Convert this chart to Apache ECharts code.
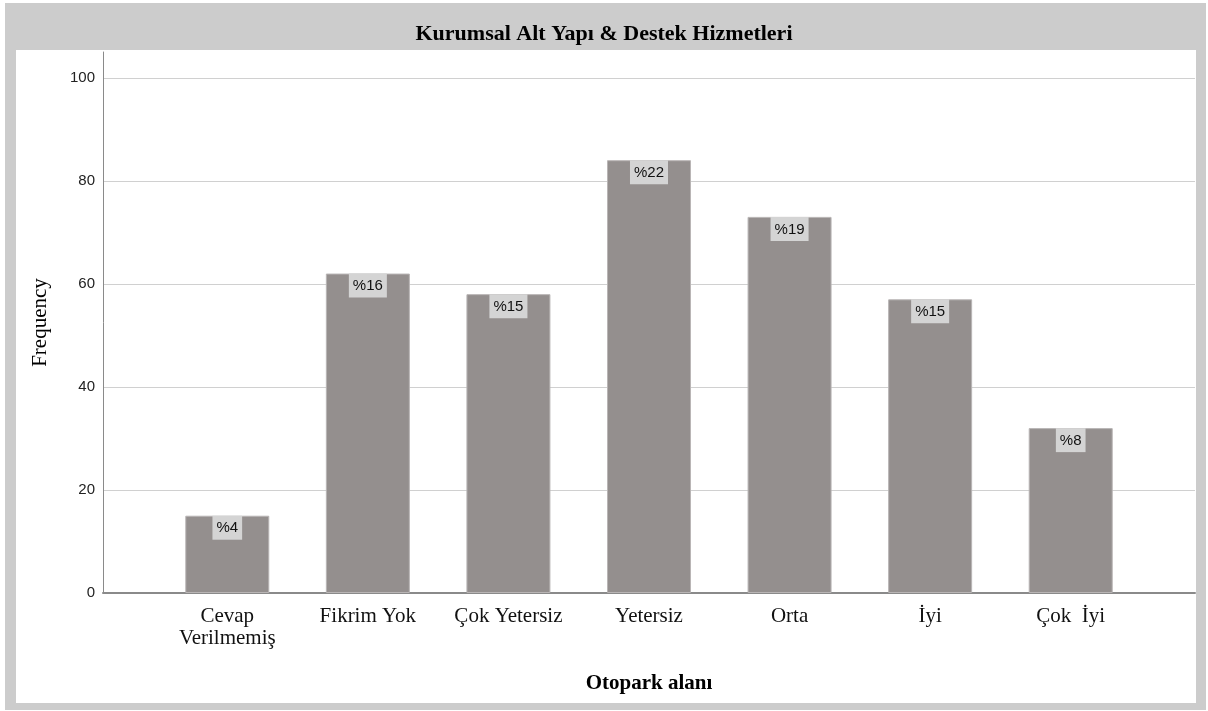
<!DOCTYPE html>
<html>
<head>
<meta charset="utf-8">
<script src="https://cdn.jsdelivr.net/npm/echarts@6.0.0/dist/echarts.min.js"></script>
<style>
html, body { margin: 0; padding: 0; background: #fff; }
#frame { position: absolute; left: 5px; top: 3px; width: 1201px; height: 707px; background: #cccccc; }
#inner { position: absolute; left: 16px; top: 50px; width: 1180px; height: 653px; background: #fff; }
#main { position: absolute; left: 0; top: 0; width: 1208px; height: 711px; }
</style>
</head>
<body>
<div id="frame"></div>
<div id="inner"></div>
<div id="main"></div>
<script>
// data
var categories = ['Cevap\nVerilmemiş', 'Fikrim Yok', 'Çok Yetersiz', 'Yetersiz', 'Orta', 'İyi', 'Çok  İyi'];
var frequency = [15, 62, 58, 84, 73, 57, 32];
var percentLabels = ['%4', '%16', '%15', '%22', '%19', '%15', '%8'];

var serif = "'Liberation Serif', 'Times New Roman', serif";
var sans = "'Liberation Sans', Arial, sans-serif";

var myChart = echarts.init(document.getElementById('main'));

var option = {
    animation: false,
    title: {
        text: 'Kurumsal Alt Yapı & Destek Hizmetleri',
        left: 'center',
        top: 18,
        textStyle: { fontFamily: serif, fontSize: 22, fontWeight: 'bold', color: '#000' }
    },
    grid: [
        // frame of the plot: axis lines and grid lines
        { left: 103, right: 13, top: 52, bottom: 118 },
        // bars
        { left: 157, right: 67, top: 52, bottom: 118 }
    ],
    xAxis: [
        {
            gridIndex: 0,
            type: 'value',
            min: 0,
            max: 1,
            axisLine: { show: true, lineStyle: { color: '#8a8a8a', width: 2 } },
            axisTick: { show: false },
            axisLabel: { show: false },
            splitLine: { show: false },
            name: 'Otopark alanı',
            nameLocation: 'middle',
            nameGap: 80,
            nameTextStyle: { fontFamily: serif, fontSize: 21, fontWeight: 'bold', color: '#000' }
        },
        {
            gridIndex: 1,
            type: 'category',
            data: categories,
            axisLine: { show: false },
            axisTick: { show: false },
            axisLabel: {
                margin: 12,
                fontFamily: serif,
                fontSize: 21,
                lineHeight: 22,
                color: '#111',
                interval: 0
            }
        }
    ],
    yAxis: [
        {
            gridIndex: 0,
            type: 'value',
            min: 0,
            max: 105,
            interval: 20,
            axisLine: { show: true, lineStyle: { color: '#8a8a8a', width: 1 } },
            axisTick: { show: false },
            axisLabel: { margin: 8, fontFamily: sans, fontSize: 15, color: '#222', showMaxLabel: false },
            splitLine: { show: true, showMaxLine: false, lineStyle: { color: '#d0d0d0', width: 1 } },
            name: 'Frequency',
            nameLocation: 'middle',
            nameGap: 52,
            nameTextStyle: { fontFamily: serif, fontSize: 21, color: '#000' }
        },
        {
            gridIndex: 1,
            type: 'value',
            min: 0,
            max: 105,
            show: false
        }
    ],
    series: [
        {
            type: 'bar',
            xAxisIndex: 1,
            yAxisIndex: 1,
            data: frequency,
            barWidth: 84,
            itemStyle: { color: '#948f8e', borderColor: '#b9b5b5', borderWidth: 1 },
            label: {
                show: true,
                position: 'insideTop',
                distance: 0,
                formatter: function (p) { return percentLabels[p.dataIndex]; },
                backgroundColor: '#d4d4d4',
                padding: [5, 4, 4, 4],
                fontFamily: sans,
                fontSize: 15,
                color: '#111'
            }
        }
    ]
};

myChart.setOption(option);
</script>
</body>
</html>
